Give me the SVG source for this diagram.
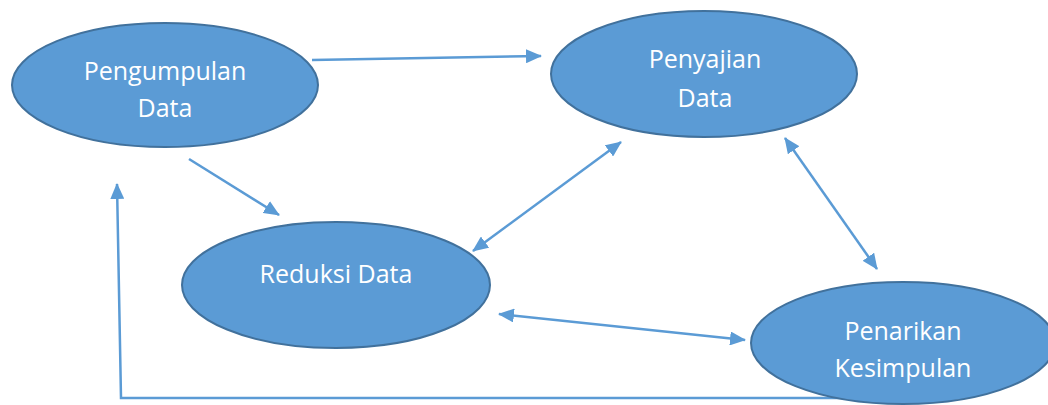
<svg xmlns="http://www.w3.org/2000/svg" width="1048" height="405" viewBox="0 0 1048 405">
<style>
.node ellipse{fill:#5B9BD5;stroke:#41719C;stroke-width:2}
.node text{fill:#FFFFFF;font-family:"Open Sans","Liberation Sans",sans-serif;font-size:25px;text-anchor:middle}
.conn{fill:none;stroke:#5B9BD5;stroke-width:2.5}
</style>
<defs>
<marker id="ah" markerUnits="userSpaceOnUse" markerWidth="16" markerHeight="14" viewBox="0 0 16 14" refX="15" refY="7" orient="auto-start-reverse">
<path d="M0,0 L16,7 L0,14 z" fill="#5B9BD5"/>
</marker>
</defs>
<rect width="1048" height="405" fill="#FFFFFF"/>
<g id="connectors">
<line class="conn" x1="312" y1="60" x2="541" y2="56" marker-end="url(#ah)"/>
<line class="conn" x1="189" y1="159" x2="279" y2="215" marker-end="url(#ah)"/>
<line class="conn" x1="473" y1="251" x2="621" y2="142" marker-start="url(#ah)" marker-end="url(#ah)"/>
<line class="conn" x1="785" y1="138" x2="877" y2="269" marker-start="url(#ah)" marker-end="url(#ah)"/>
<line class="conn" x1="499" y1="314" x2="745" y2="340" marker-start="url(#ah)" marker-end="url(#ah)"/>
<polyline class="conn" points="860,398 121,398 117,184" marker-end="url(#ah)"/>
</g>
<g id="pengumpulan" class="node">
<ellipse cx="165" cy="85" rx="153" ry="62"/>
<text x="165" y="80">Pengumpulan</text>
<text x="165" y="117">Data</text>
</g>
<g id="penyajian" class="node">
<ellipse cx="704" cy="74" rx="153" ry="63"/>
<text x="705" y="68">Penyajian</text>
<text x="705" y="107">Data</text>
</g>
<g id="reduksi" class="node">
<ellipse cx="336" cy="285" rx="154" ry="63"/>
<text x="336" y="283">Reduksi Data</text>
</g>
<g id="penarikan" class="node">
<ellipse cx="903" cy="343" rx="152" ry="61"/>
<text x="903" y="340">Penarikan</text>
<text x="903" y="377">Kesimpulan</text>
</g>
</svg>
